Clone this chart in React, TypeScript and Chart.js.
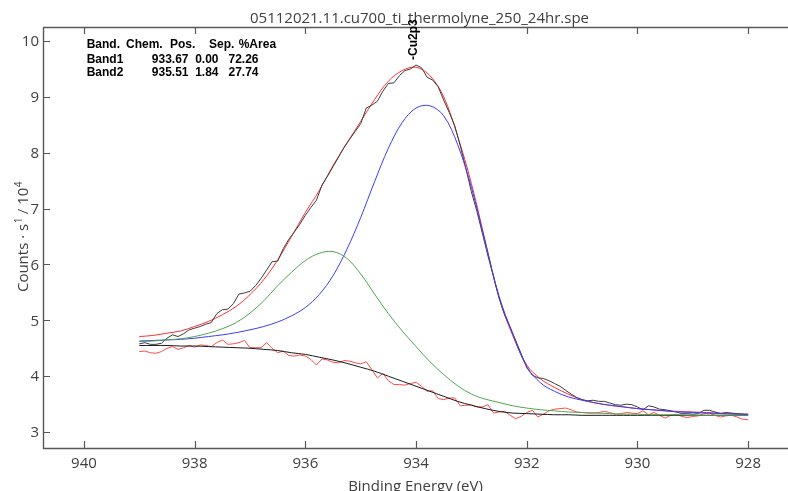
import { useEffect, useRef } from "react";
import { Chart, registerables } from "chart.js";

Chart.register(...registerables);

const TITLE = "05112021.11.cu700_ti_thermolyne_250_24hr.spe";
const X_LABEL = "Binding Energy (eV)";
const Y_LABEL_MAIN = "Counts · s";
const Y_LABEL_SUP1 = "1";
const Y_LABEL_MID = " / 10";
const Y_LABEL_SUP2 = "4";
const X_TICKS = [940, 938, 936, 934, 932, 930, 928];
const Y_TICKS = [3, 4, 5, 6, 7, 8, 9, 10];
const X_MIN = 927.28;
const X_MAX = 940.74;
const Y_MIN = 2.715;
const Y_MAX = 10.25;

const TABLE_HEADER = ["Band.", "Chem.", "Pos.", "Sep.", "%Area"];
const BAND_NAMES = ["Band1", "Band2"];
const BAND_POS = ["933.67", "935.51"];
const BAND_SEP = ["0.00", "1.84"];
const BAND_AREA = ["72.26", "27.74"];
const PEAK_LABEL = "-Cu2p3";
const PEAK_LABEL_E = 934.05;

// fitted curves, 0.25 eV grid
const ENERGY_FIT = [
  939.0, 938.75, 938.5, 938.25, 938.0, 937.75, 937.5, 937.25, 937.0, 936.75,
  936.5, 936.25, 936.0, 935.75, 935.5, 935.25, 935.0, 934.75, 934.5, 934.25,
  934.0, 933.75, 933.5, 933.25, 933.0, 932.75, 932.5, 932.25, 932.0, 931.75,
  931.5, 931.25, 931.0, 930.75, 930.5, 930.25, 930.0, 929.75, 929.5, 929.25,
  929.0, 928.75, 928.5, 928.25, 928.0,
];
const BACKGROUND = [
  4.55, 4.55, 4.55, 4.54, 4.54, 4.53, 4.52, 4.51, 4.5, 4.48,
  4.46, 4.42, 4.39, 4.34, 4.29, 4.23, 4.16, 4.09, 4.0, 3.91,
  3.82, 3.73, 3.64, 3.55, 3.48, 3.42, 3.37, 3.34, 3.33, 3.32,
  3.31, 3.31, 3.3, 3.3, 3.3, 3.3, 3.3, 3.3, 3.3, 3.3,
  3.3, 3.3, 3.3, 3.3, 3.3,
];
const BAND1 = [
  4.63, 4.64, 4.65, 4.66, 4.68, 4.71, 4.74, 4.78, 4.83, 4.89,
  4.97, 5.08, 5.23, 5.46, 5.8, 6.27, 6.84, 7.48, 8.08, 8.54,
  8.8, 8.84, 8.66, 8.15, 7.38, 6.4, 5.43, 4.75, 4.17, 3.88,
  3.73, 3.63, 3.57, 3.52, 3.48, 3.45, 3.42, 3.4, 3.38, 3.36,
  3.35, 3.34, 3.33, 3.32, 3.32,
];
const BAND2 = [
  4.62, 4.63, 4.65, 4.67, 4.71, 4.77, 4.85, 4.96, 5.13, 5.35,
  5.62, 5.86, 6.07, 6.2, 6.23, 6.11, 5.83, 5.47, 5.12, 4.81,
  4.53, 4.26, 4.03, 3.83, 3.68, 3.59, 3.53, 3.47, 3.43, 3.4,
  3.38, 3.36, 3.35, 3.34, 3.33, 3.32, 3.32, 3.31, 3.31, 3.31,
  3.3, 3.3, 3.3, 3.3, 3.3,
];
const ENVELOPE = [
  4.71, 4.73, 4.77, 4.81, 4.89, 4.98, 5.1, 5.25, 5.46, 5.73,
  6.08, 6.5, 6.93, 7.32, 7.77, 8.17, 8.56, 8.95, 9.28, 9.47,
  9.53, 9.38, 9.0, 8.3, 7.45, 6.42, 5.4, 4.72, 4.2, 3.95,
  3.8, 3.68, 3.58, 3.52, 3.48, 3.45, 3.42, 3.4, 3.38, 3.37,
  3.36, 3.35, 3.34, 3.33, 3.32,
];

// measured spectrum and residual, 0.1 eV grid from 939.0 down to 928.0
const ENERGY_RAW = Array.from({ length: 111 }, (_, i) => Math.round((939 - i * 0.1) * 10) / 10);
const RAW_COUNTS = [
  4.58, 4.6, 4.57, 4.57, 4.59, 4.68, 4.74, 4.71, 4.76, 4.83,
  4.86, 4.89, 4.93, 4.96, 5.12, 5.19, 5.2, 5.3, 5.47, 5.49,
  5.52, 5.62, 5.75, 5.9, 6.05, 6.06, 6.28, 6.45, 6.58, 6.72,
  6.88, 7.02, 7.15, 7.42, 7.58, 7.75, 7.92, 8.1, 8.24, 8.38,
  8.52, 8.8, 8.85, 8.92, 9.1, 9.24, 9.25, 9.38, 9.47, 9.5,
  9.57, 9.52, 9.35, 9.3, 9.18, 8.94, 8.72, 8.48, 8.12, 7.72,
  7.3, 6.95, 6.55, 6.15, 5.78, 5.4, 5.1, 4.88, 4.64, 4.4,
  4.15, 4.02, 3.97, 3.96, 3.92, 3.87, 3.82, 3.75, 3.68, 3.62,
  3.58, 3.56, 3.57, 3.55, 3.55, 3.52, 3.49, 3.48, 3.5, 3.49,
  3.45, 3.4, 3.47, 3.45, 3.41, 3.4, 3.38, 3.36, 3.33, 3.33,
  3.32, 3.33, 3.39, 3.39, 3.36, 3.33, 3.35, 3.34, 3.33, 3.32,
  3.31,
];
const RESIDUAL = [
  4.44, 4.45, 4.42, 4.41, 4.44, 4.5, 4.53, 4.48, 4.51, 4.55,
  4.52, 4.56, 4.55, 4.53, 4.6, 4.65, 4.57, 4.58, 4.6, 4.64,
  4.51, 4.51, 4.51, 4.6, 4.5, 4.42, 4.45, 4.37, 4.36, 4.38,
  4.36, 4.3, 4.2, 4.31, 4.29, 4.25, 4.24, 4.28, 4.27, 4.24,
  4.22, 4.26, 4.12, 3.97, 4.05, 3.92, 3.85, 3.85, 3.84, 3.87,
  3.89, 3.82, 3.73, 3.74, 3.6, 3.58, 3.61, 3.61, 3.47, 3.48,
  3.49, 3.45, 3.45, 3.49, 3.34, 3.36, 3.37, 3.3, 3.24, 3.28,
  3.35, 3.39, 3.27, 3.32, 3.38, 3.41, 3.42, 3.43, 3.4, 3.36,
  3.35, 3.34, 3.34, 3.35, 3.37, 3.35, 3.32, 3.33, 3.35, 3.34,
  3.33, 3.38, 3.31, 3.35, 3.3, 3.25, 3.3, 3.32, 3.28, 3.26,
  3.28, 3.29, 3.33, 3.34, 3.3, 3.27, 3.29, 3.3, 3.27, 3.23,
  3.22,
];

const TEXT_COLOR = "#404040";
const AXIS_COLOR = "#585858";

function pts(xs: number[], ys: number[]) {
  return xs.map((x, i) => ({ x, y: ys[i] }));
}

const overlayPlugin = {
  id: "overlay",
  afterDraw(chart: any) {
    const ctx: CanvasRenderingContext2D = chart.ctx;
    const { left, right, top, bottom } = chart.chartArea;
    const xs = chart.scales.x;
    const ys = chart.scales.y;
    ctx.save();
    // frame
    ctx.strokeStyle = AXIS_COLOR;
    ctx.lineWidth = 1.4;
    ctx.beginPath();
    ctx.moveTo(left, top + 0.5);
    ctx.lineTo(right, top + 0.5);
    ctx.moveTo(left + 0.5, top);
    ctx.lineTo(left + 0.5, bottom + 0.5);
    ctx.lineTo(right, bottom + 0.5);
    ctx.stroke();
    // ticks
    ctx.lineWidth = 1.2;
    ctx.beginPath();
    X_TICKS.forEach((v) => {
      const px = Math.round(xs.getPixelForValue(v)) + 0.5;
      ctx.moveTo(px, bottom);
      ctx.lineTo(px, bottom - 7);
      ctx.moveTo(px, top);
      ctx.lineTo(px, top + 7);
    });
    Y_TICKS.forEach((v) => {
      const py = Math.round(ys.getPixelForValue(v)) + 0.5;
      ctx.moveTo(left, py);
      ctx.lineTo(left + 7, py);
    });
    ctx.stroke();

    // tick labels
    ctx.fillStyle = TEXT_COLOR;
    ctx.font = '15px "Open Sans"';
    ctx.textAlign = "center";
    ctx.textBaseline = "alphabetic";
    X_TICKS.forEach((v) => {
      ctx.fillText(String(v), xs.getPixelForValue(v), 468);
    });
    ctx.textAlign = "right";
    ctx.textBaseline = "middle";
    Y_TICKS.forEach((v) => {
      ctx.fillText(String(v), left - 4, ys.getPixelForValue(v) + 1);
    });

    // x label
    ctx.textAlign = "center";
    ctx.textBaseline = "alphabetic";
    ctx.font = '15px "Open Sans"';
    ctx.fillText(X_LABEL, (left + right) / 2, 491);

    // title
    ctx.font = '15px "Open Sans"';
    ctx.fillText(TITLE, 419.5, 22.5);

    // y label (rotated)
    ctx.save();
    ctx.translate(28, 237);
    ctx.rotate(-Math.PI / 2);
    const big = '15px "Open Sans"';
    const small = '10px "Open Sans"';
    ctx.font = big;
    const w1 = ctx.measureText(Y_LABEL_MAIN).width;
    const w3 = ctx.measureText(Y_LABEL_MID).width;
    ctx.font = small;
    const w2 = ctx.measureText(Y_LABEL_SUP1).width;
    const w4 = ctx.measureText(Y_LABEL_SUP2).width;
    let cx = -(w1 + w2 + w3 + w4) / 2;
    ctx.textAlign = "left";
    ctx.textBaseline = "alphabetic";
    ctx.font = big;
    ctx.fillText(Y_LABEL_MAIN, cx, 0);
    cx += w1;
    ctx.font = small;
    ctx.fillText(Y_LABEL_SUP1, cx + 0.5, -6);
    cx += w2;
    ctx.font = big;
    ctx.fillText(Y_LABEL_MID, cx, 0);
    cx += w3;
    ctx.font = small;
    ctx.fillText(Y_LABEL_SUP2, cx + 0.5, -6);
    ctx.restore();

    // band table
    ctx.fillStyle = "#000";
    ctx.font = 'bold 12px "Liberation Sans"';
    ctx.textAlign = "left";
    ctx.textBaseline = "alphabetic";
    const hx = [86.7, 126, 170, 209, 238.7];
    TABLE_HEADER.forEach((t, i) => ctx.fillText(t, hx[i], 47.5));
    const rowY = [62.5, 76];
    BAND_NAMES.forEach((name, i) => {
      ctx.textAlign = "left";
      ctx.fillText(name, 86.7, rowY[i]);
      ctx.textAlign = "right";
      ctx.fillText(BAND_POS[i], 188.5, rowY[i]);
      ctx.fillText(BAND_SEP[i], 218.5, rowY[i]);
      ctx.fillText(BAND_AREA[i], 258.5, rowY[i]);
    });

    // peak label
    ctx.save();
    ctx.translate(xs.getPixelForValue(PEAK_LABEL_E) + 3.5, 60);
    ctx.rotate(-Math.PI / 2);
    ctx.textAlign = "left";
    ctx.fillText(PEAK_LABEL, 0, 0);
    ctx.restore();

    ctx.restore();
  },
};

export default function App() {
  const ref = useRef<HTMLCanvasElement | null>(null);
  useEffect(() => {
    if (!ref.current) return;
    const common = { pointRadius: 0, borderWidth: 1, fill: false };
    const chart = new Chart(ref.current, {
      type: "line",
      data: {
        datasets: [
          { ...common, label: "Band2", data: pts(ENERGY_FIT, BAND2), borderColor: "#4fa54f", tension: 0.35 },
          { ...common, label: "Band1", data: pts(ENERGY_FIT, BAND1), borderColor: "#3a3aff", tension: 0.35 },
          { ...common, label: "Background", data: pts(ENERGY_FIT, BACKGROUND), borderColor: "#1a1a1a", tension: 0.35 },
          { ...common, label: "Residual", data: pts(ENERGY_RAW, RESIDUAL), borderColor: "#ff4a4a", tension: 0 },
          { ...common, label: "Data", data: pts(ENERGY_RAW, RAW_COUNTS), borderColor: "#3c3c3c", tension: 0 },
          { ...common, label: "Envelope", data: pts(ENERGY_FIT, ENVELOPE), borderColor: "#ff3030", tension: 0.35 },
        ],
      },
      options: {
        responsive: false,
        animation: false,
        devicePixelRatio: 1,
        layout: { padding: { left: 43, right: 0, top: 27, bottom: 43 } },
        plugins: { legend: { display: false }, tooltip: { enabled: false }, title: { display: false } },
        scales: {
          x: { type: "linear", reverse: true, min: X_MIN, max: X_MAX, display: false },
          y: { type: "linear", min: Y_MIN, max: Y_MAX, display: false },
        },
      },
      plugins: [overlayPlugin],
    });
    return () => chart.destroy();
  }, []);
  return (
    <div style={{ position: "absolute", left: 0, top: 0, width: 788, height: 491, background: "#fff" }}>
      <canvas ref={ref} width={788} height={491} style={{ display: "block" }} />
    </div>
  );
}
